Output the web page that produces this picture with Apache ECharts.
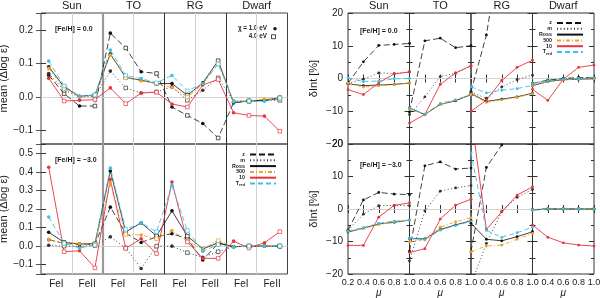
<!DOCTYPE html>
<html><head><meta charset="utf-8">
<script src="https://cdn.jsdelivr.net/npm/echarts@6/dist/echarts.min.js"></script>
<style>html,body{margin:0;padding:0;background:#fff}#c{width:600px;height:298px}</style>
</head><body><div id="c"></div>
<script>
// ---------- data ----------
const groups = ['Sun', 'TO', 'RG', 'Dwarf'];
const lineLabels = ['FeI', 'FeII'];
const seriesNames = ['z', 'm', 'Ross', '500', '10', 'Tred'];
const mu = [0.2, 0.4, 0.6, 0.8, 1.0];
const fehLabels = ['[Fe/H] = 0.0', '[Fe/H] = \u22123.0'];

// mean(Δlog ε), [Fe/H]=0.0 ; 4 points per group (FeI χ1, FeI χ4, FeII χ1, FeII χ4)
const mean0_z    = [0.065, 0.010, -0.027, -0.027, 0.190, 0.146, 0.075, 0.070, -0.030, -0.055, -0.079, -0.122, -0.017, -0.012, -0.010, -0.005];
const mean0_m    = [0.070, 0.020, 0.000, 0.002, 0.077, 0.027, 0.012, 0.015, 0.030, -0.010, 0.020, 0.057, -0.012, -0.012, -0.010, -0.010];
const mean0_ross = [0.090, 0.030, 0.002, 0.006, 0.128, 0.058, 0.050, 0.040, 0.040, 0.005, 0.042, 0.108, -0.017, -0.012, -0.010, -0.002];
const mean0_500  = [0.085, 0.025, 0.000, 0.005, 0.125, 0.057, 0.048, 0.040, 0.028, 0.000, 0.038, 0.100, -0.012, -0.012, -0.006, -0.005];
const mean0_10   = [0.056, -0.012, -0.010, -0.008, 0.027, -0.020, 0.012, 0.014, -0.021, -0.030, 0.036, 0.052, -0.047, -0.055, -0.057, -0.102];
const mean0_tred = [0.107, 0.033, 0.002, 0.006, 0.140, 0.064, 0.055, 0.042, 0.064, 0.018, 0.040, 0.098, -0.015, -0.012, -0.013, -0.003];

// mean(Δlog ε), [Fe/H]=-3.0
const mean3_z    = [0.035, 0.015, 0.010, 0.010, 0.210, 0.070, 0.020, 0.050, 0.067, 0.040, -0.075, 0.015, -0.003, 0.000, 0.000, 0.000];
const mean3_m    = [0.005, 0.000, 0.000, 0.003, 0.050, -0.010, -0.120, 0.000, 0.000, -0.035, -0.060, -0.030, -0.003, 0.000, 0.000, 0.000];
const mean3_ross = [0.075, 0.020, 0.012, 0.013, 0.405, 0.077, 0.125, 0.055, 0.190, 0.054, -0.015, 0.018, -0.003, 0.000, 0.000, 0.000];
const mean3_500  = [0.035, 0.015, 0.012, 0.010, 0.335, 0.063, 0.060, 0.040, 0.084, 0.027, -0.015, 0.030, -0.003, 0.000, 0.000, 0.000];
const mean3_10   = [0.425, -0.030, -0.025, -0.117, 0.360, -0.012, 0.040, -0.040, 0.345, 0.023, -0.066, -0.066, 0.027, -0.010, 0.018, 0.078];
const mean3_tred = [0.157, 0.015, -0.010, 0.005, 0.420, 0.090, 0.125, 0.077, 0.327, 0.084, -0.027, 0.008, -0.005, 0.000, 0.000, 0.000];

// δInt [%] vs μ, [Fe/H]=0.0 ; 5 μ values for Sun, TO, RG, Dwarf
const dint0_z    = [-1.5, 5.1, 10.1, 10.4, 10.7,  -10.2, 11.5, 12.3, 9.4, 10.0,  -4.0, 13.3, 42, 60, 72,  -1.5, -0.5, 0.0, 0.3, 0.2];
const dint0_m    = [-1.5, -0.2, 1.7, 1.5, 2.0,  -11.0, -5.6, 0.6, 1.6, 3.8,  -4.2, -6.0, -2.6, -0.3, 1.0,  -1.5, -0.6, -0.2, 0.1, 0.1];
const dint0_ross = [-1.6, -2.2, -2.0, -1.8, -1.4,  -9.0, -11.0, -7.9, -6.8, -4.9,  -4.6, -7.0, -6.3, -5.6, -4.5,  -2.2, -0.9, -0.4, -0.2, -0.1];
const dint0_500  = [-1.5, -2.6, -2.2, -1.9, -1.4,  -9.4, -11.0, -8.0, -6.6, -4.7,  -4.8, -7.3, -6.5, -5.8, -4.6,  -2.2, -0.9, -0.4, -0.2, -0.1];
const dint0_10   = [-3.4, -4.9, -1.3, 1.4, 2.0,  -13.6, -11.0, -1.8, 1.7, 3.9,  -10.0, -6.6, -0.6, 3.4, 5.6,  -3.3, -6.7, -0.2, 3.4, 4.1];
const dint0_tred = [0.2, -0.9, -0.8, -0.1, 0.0,  -9.0, -10.9, -7.6, -6.5, -5.0,  -2.5, -4.4, -3.6, -3.1, -2.1,  -1.5, -0.7, -0.2, 0.0, 0.2];

// δInt [%] vs μ, [Fe/H]=-3.0
const dint3_z    = [-6.5, 2.8, 5.1, 4.6, 4.4,  -13.0, 13.3, 14.5, 12.3, 12.6,  -13.1, 12.8, 19.7, 28, 34,  -0.2, 0.0, 0.0, 0.0, 0.0];
const dint3_m    = [-6.5, -1.6, 1.0, 1.1, 1.0,  -16.0, -0.6, 5.5, 6.5, 7.2,  -23.3, -10.6, -0.8, 3.6, 6.0,  -0.2, 0.0, 0.0, 0.0, 0.0];
const dint3_ross = [-7.1, -5.9, -4.6, -4.1, -3.4,  -9.1, -9.2, -6.3, -4.9, -3.6,  -4.4, -9.3, -9.8, -8.5, -7.0,  -0.3, 0.0, 0.0, 0.0, 0.0];
const dint3_500  = [-6.9, -6.0, -4.8, -4.0, -3.4,  -10.1, -9.4, -5.6, -3.9, -2.7,  -13.1, -11.4, -11.1, -9.3, -7.5,  -0.3, 0.0, 0.0, 0.0, 0.0];
const dint3_10   = [-11.2, -11.2, -2.5, 1.1, 1.9,  -13.4, -12.2, -3.1, 1.2, 3.0,  29, -6.3, -0.9, 4.3, 6.8,  -4.9, -8.7, -10.4, -11.1, -11.4];
const dint3_tred = [-6.8, -5.7, -4.4, -3.7, -3.5,  -9.0, -9.5, -6.5, -5.1, -3.8,  17.3, -6.6, -8.7, -7.3, -5.6,  -0.3, 0.0, 0.0, 0.0, 0.0];

// ---------- styles ----------
const FONT = '"Liberation Sans", Arial, Helvetica, sans-serif';
const INK = '#1a1a1a';
const lineStyles = {
  'z':    { color: '#111', type: [6, 3], width: 0.8 },
  'm':    { color: '#333', type: [1, 2.4], width: 0.9 },
  'Ross': { color: '#111', type: 'solid', width: 0.8 },
  '500':  { color: '#f0a01e', type: [4, 2, 1, 2], width: 0.9 },
  '10':   { color: '#e8333c', type: 'solid', width: 0.9 },
  'Tred': { color: '#3ac2e6', type: [5, 3], width: 0.9 }
};
const gridLineStyle = { color: '#d2d2d2', width: 1, type: 'solid' };

const grid = [], xAxis = [], yAxis = [], series = [];

function fmt1(v) {
  if (Math.abs(v * 10 - Math.round(v * 10)) > 1e-6) return '';
  const s = Math.abs(v).toFixed(1);
  return v < -1e-9 ? '\u2212' + s : s;
}
function fmtInt(v) { return v < 0 ? '\u2212' + (-v) : '' + v; }

const lblStyle = { fontSize: 10, fontFamily: FONT, color: INK };
const HOST = 2; // markLines are attached to the solid "Ross" series

// ---------- left panels ----------
const leftRows = [
  { top: 13, height: 131, min: -0.14, max: 0.25, split: 4, bottom: false,
    data: [mean0_z, mean0_m, mean0_ross, mean0_500, mean0_10, mean0_tred] },
  { top: 144, height: 130, min: -0.15, max: 0.55, split: 7, bottom: true,
    data: [mean3_z, mean3_m, mean3_ross, mean3_500, mean3_10, mean3_tred] }
];

leftRows.forEach((row, r) => {
  const gi = grid.length;
  grid.push({ left: 41, top: row.top, width: 246.5, height: row.height, show: true,
    borderColor: '#444', borderWidth: 1, backgroundColor: 'transparent',
    containLabel: false, outerBoundsMode: 'none' });
  const xb = xAxis.length;
  xAxis.push({ gridIndex: gi, type: 'value', min: 0, max: 16, interval: 1, position: 'bottom',
    axisLine: { show: false }, axisTick: { show: false }, splitLine: { show: false },
    axisLabel: Object.assign({ show: row.bottom, margin: 5,
      formatter: v => (v % 4 === 1 ? lineLabels[0] : (v % 4 === 3 ? lineLabels[1] : '')) }, lblStyle) });
  xAxis.push({ gridIndex: gi, type: 'value', min: 0, max: 16, interval: 2, position: 'top',
    axisLine: { show: false }, axisTick: { show: false }, splitLine: { show: false },
    axisLabel: { show: r === 0, margin: 2, fontSize: 11, fontFamily: FONT, color: INK,
      formatter: v => (v % 4 === 2 ? groups[(v - 2) / 4] : '') } });
  const yl = yAxis.length;
  yAxis.push({ gridIndex: gi, type: 'value', min: row.min, max: row.max, splitNumber: row.split, position: 'left',
    axisLine: { show: false }, splitLine: { show: false },
    axisTick: { inside: true, length: 5, lineStyle: { color: '#333', width: 1 } },
    axisLabel: Object.assign({ margin: 8, formatter: fmt1 }, lblStyle),
    name: 'mean (\u0394log \u03b5)', nameLocation: 'middle', nameGap: 25,
    nameTextStyle: { fontSize: 11, fontFamily: FONT, color: INK } });
  yAxis.push({ gridIndex: gi, type: 'value', min: row.min, max: row.max, splitNumber: row.split, position: 'right',
    axisLine: { show: false }, splitLine: { show: false },
    axisTick: { inside: true, length: 5, lineStyle: { color: '#555', width: 1 } },
    axisLabel: { show: false } });

  seriesNames.forEach((nm, s) => {
    const st = lineStyles[nm];
    const ser = {
      type: 'line', name: nm, xAxisIndex: xb, yAxisIndex: yl, silent: true,
      animation: false, emphasis: { disabled: true },
      lineStyle: { color: st.color, type: st.type, width: st.width },
      itemStyle: { color: st.color, borderColor: st.color, borderWidth: 0 },
      symbol: 'circle', symbolSize: 3.5,
      data: row.data[s].map((v, k) => (k % 2 === 0
        ? { value: [k + 0.5, v], symbol: 'circle', symbolSize: 3.6,
            itemStyle: { color: st.color, borderWidth: 0 } }
        : { value: [k + 0.5, v], symbol: 'rect', symbolSize: 3.6,
            itemStyle: { color: '#ffffff', borderColor: st.color, borderWidth: 0.7 } }))
    };
    if (s === HOST) {
      const md = [];
      [2, 6, 10, 14].forEach(x => md.push({ xAxis: x, lineStyle: gridLineStyle }));
      md.push({ xAxis: 4, lineStyle: { color: '#9a9a9a', width: 2.2, type: 'solid' } });
      md.push({ xAxis: 8, lineStyle: { color: '#333', width: 1, type: 'solid' } });
      md.push({ xAxis: 12, lineStyle: { color: '#333', width: 1, type: 'solid' } });
      md.push({ yAxis: 0, lineStyle: gridLineStyle });
      ser.markLine = { silent: true, symbol: ['none', 'none'], label: { show: false },
        lineStyle: gridLineStyle,
        emphasis: { disabled: true }, animation: false, z: 1, data: md };
    }
    series.push(ser);
  });
});

// ---------- right panels ----------
const rightRows = [
  { top: 13, height: 131, bottom: false, data: [dint0_z, dint0_m, dint0_ross, dint0_500, dint0_10, dint0_tred] },
  { top: 144, height: 130, bottom: true, data: [dint3_z, dint3_m, dint3_ross, dint3_500, dint3_10, dint3_tred] }
];
const panelLeft = [348, 409.5, 471, 532.5];

rightRows.forEach((row, r) => {
  groups.forEach((g, p) => {
    const gi = grid.length;
    grid.push({ left: panelLeft[p], top: row.top, width: 61.5, height: row.height, show: true,
      borderColor: '#333', borderWidth: 1, backgroundColor: 'transparent',
      containLabel: false, outerBoundsMode: 'none' });
    const xb = xAxis.length;
    xAxis.push({ gridIndex: gi, type: 'value', min: 0.2, max: 1.0, interval: 0.2, position: 'bottom',
      axisLine: { show: false }, splitLine: { show: false },
      axisTick: { inside: true, length: 4, lineStyle: { color: '#333' } },
      axisLabel: { show: row.bottom, margin: 4, fontSize: 9, fontFamily: FONT, color: INK,
        formatter: v => ((p > 0 && Math.abs(v - 0.2) < 1e-6) ? '' : v.toFixed(1)) },
      name: row.bottom ? '\u03bc' : '', nameLocation: 'middle', nameGap: 13,
      nameTextStyle: { fontSize: 10, fontFamily: FONT, color: INK, fontStyle: 'italic' } });
    xAxis.push({ gridIndex: gi, type: 'value', min: 0.2, max: 1.0, interval: 0.2, position: 'top',
      axisLine: { show: false }, splitLine: { show: false },
      axisTick: { inside: true, length: 4, lineStyle: { color: '#333' } },
      axisLabel: { show: false },
      name: r === 0 ? g : '', nameLocation: 'middle', nameGap: 2,
      nameTextStyle: { fontSize: 11, fontFamily: FONT, color: INK } });
    const yl = yAxis.length;
    yAxis.push({ gridIndex: gi, type: 'value', min: -20, max: 20, interval: 10, position: 'left',
      axisLine: { show: false }, splitLine: { show: false },
      axisTick: { inside: true, length: 5, lineStyle: { color: '#333' } },
      minorTick: { show: true, splitNumber: 2, length: 3, lineStyle: { color: '#333' } },
      axisLabel: Object.assign({ show: p === 0, margin: 5, formatter: fmtInt }, lblStyle),
      name: p === 0 ? '\u03b4Int [%]' : '', nameLocation: 'middle', nameGap: 29,
      nameTextStyle: { fontSize: 11, fontFamily: FONT, color: INK } });
    yAxis.push({ gridIndex: gi, type: 'value', min: -20, max: 20, interval: 10, position: 'right',
      axisLine: { show: false }, splitLine: { show: false },
      axisTick: { inside: true, length: 5, lineStyle: { color: '#333' } },
      minorTick: { show: true, splitNumber: 2, length: 3, lineStyle: { color: '#333' } },
      axisLabel: { show: false } });

    seriesNames.forEach((nm, s) => {
      const st = lineStyles[nm];
      const ser = {
        type: 'line', name: nm, xAxisIndex: xb, yAxisIndex: yl, silent: true,
        animation: false, emphasis: { disabled: true },
        lineStyle: { color: st.color, type: st.type, width: st.width },
        itemStyle: { color: st.color, borderWidth: 0 },
        symbol: 'circle', symbolSize: 2.8,
        data: mu.map((m, i) => [m, row.data[s][p * 5 + i]])
      };
      if (s === HOST) {
        ser.markLine = { silent: true, symbol: ['none', 'none'], label: { show: false },
          lineStyle: gridLineStyle,
          emphasis: { disabled: true }, animation: false, z: 1,
          data: [{ yAxis: 0, lineStyle: gridLineStyle }] };
      }
      series.push(ser);
    });
  });
});

// ---------- legends ----------
function makeLegend(right, top) {
  return {
    orient: 'vertical', align: 'right', right: right, top: top,
    itemWidth: 26, itemHeight: 5, itemGap: 0.8, padding: 0, selectedMode: false,
    data: seriesNames,
    itemStyle: { opacity: 0 },
    textStyle: { fontSize: 5.3, fontWeight: 'bold', fontFamily: FONT, color: INK,
      rich: { sub: { fontSize: 3.8, fontWeight: 'bold', fontFamily: FONT, color: INK, padding: [3, 0, 0, 0] } } },
    formatter: n => (n === 'Tred' ? 'T{sub|red}' : n)
  };
}

const tinyFont = 'bold 7px "Liberation Sans", Arial, sans-serif';
const chiFont = 'bold 6.3px "Liberation Sans", Arial, sans-serif';

const option = {
  animation: false,
  backgroundColor: '#fff',
  textStyle: { fontFamily: FONT },
  grid, xAxis, yAxis, series,
  legend: [makeLegend(323, 152), makeLegend(16, 20.5)],
  graphic: [
    { type: 'text', x: 55, y: 28.7, style: { text: fehLabels[0], font: tinyFont, fill: INK, verticalAlign: 'middle' } },
    { type: 'text', x: 360, y: 30.7, style: { text: fehLabels[0], font: tinyFont, fill: INK, verticalAlign: 'middle' } },
    { type: 'text', x: 55, y: 160, style: { text: fehLabels[1], font: tinyFont, fill: INK, verticalAlign: 'middle' } },
    { type: 'text', x: 360, y: 165, style: { text: fehLabels[1], font: tinyFont, fill: INK, verticalAlign: 'middle' } },
    { type: 'text', x: 267, y: 28.7, style: { text: '\u03c7 = 1.0 eV', font: chiFont, fill: INK, align: 'right', verticalAlign: 'middle' } },
    { type: 'circle', shape: { cx: 275, cy: 28.7, r: 1.8 }, style: { fill: INK } },
    { type: 'text', x: 267, y: 36.7, style: { text: '4.0 eV', font: chiFont, fill: INK, align: 'right', verticalAlign: 'middle' } },
    { type: 'rect', shape: { x: 271.5, y: 34.7, width: 4, height: 4 }, style: { fill: '#fff', stroke: INK, lineWidth: 0.8 } }
  ]
};

const chart = echarts.init(document.getElementById('c'), null, { renderer: 'canvas', width: 600, height: 298 });
chart.setOption(option);
</script>
</body></html>
